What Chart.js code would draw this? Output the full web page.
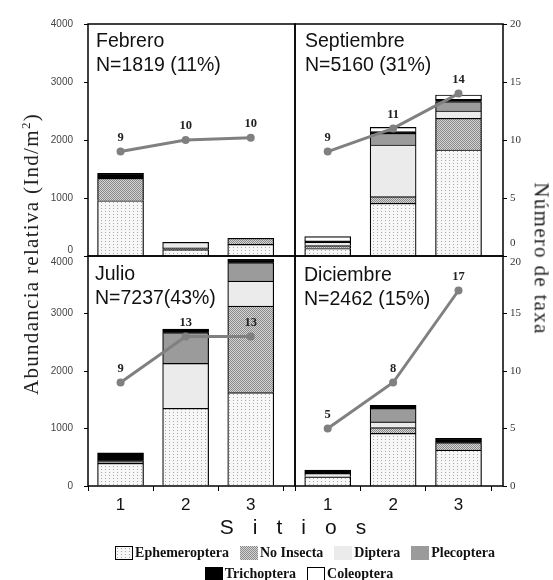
<!DOCTYPE html>
<html>
<head>
<meta charset="utf-8">
<script src="https://cdn.jsdelivr.net/npm/chart.js@4/dist/chart.umd.min.js"></script>
<style>
  body { margin: 0; background: #fff; }
  #page { position: relative; width: 553px; height: 580px; overflow: hidden; }
  #page canvas { position: absolute; left: 0; top: 0; }
  .panelTitle { position: absolute; font-family: "Liberation Sans", Arial, sans-serif; font-size: 19.5px; line-height: 24px; color: #111; white-space: nowrap; }
  .axisTitle { position: absolute; font-family: "Liberation Serif", "Times New Roman", serif; font-size: 21px; letter-spacing: 1.3px; color: #222; white-space: nowrap; }
  #sitios { position: absolute; left: 0; width: 605px; top: 515px; text-align: center; font-family: "Liberation Sans", Arial, sans-serif; font-size: 21px; letter-spacing: 19px; color: #111; }
  .legendRow { position: absolute; display: flex; justify-content: center; gap: 11px; font-family: "Liberation Serif", serif; font-weight: bold; font-size: 14px; color: #111; }
  .legendItem { display: flex; align-items: center; gap: 2px; }
  .swatch { width: 18px; height: 14px; box-sizing: border-box; }
</style>
</head>
<body>
<div id="page">
  <canvas id="c0" width="553" height="580"></canvas>
  <canvas id="c1" width="553" height="580"></canvas>
  <canvas id="c2" width="553" height="580"></canvas>
  <canvas id="c3" width="553" height="580"></canvas>
</div>
<script>
// ====== DATA ======
const sitios = [1, 2, 3];
const meses = ['Febrero', 'Septiembre', 'Julio', 'Diciembre'];
const totales = ['N=1819 (11%)', 'N=5160 (31%)', 'N=7237(43%)', 'N=2462 (15%)'];

// one row per panel (Febrero, Septiembre, Julio, Diciembre), values for sitios 1..3 (Ind/m2)
const ephemeroptera = [[953, 110, 200], [130, 908, 1828], [395, 1351, 1623], [160, 915, 626]];
const noInsecta     = [[387, 30, 105], [50, 115, 546], [0, 0, 1507], [0, 100, 128]];
const diptera       = [[0, 96, 0], [60, 891, 126], [0, 782, 435], [60, 100, 0]];
const plecoptera    = [[0, 0, 0], [0, 201, 160], [45, 534, 319], [0, 235, 0]];
const trichoptera   = [[86, 0, 0], [20, 29, 40], [139, 63, 58], [58, 55, 75]];
const coleoptera    = [[0, 0, 0], [73, 74, 76], [0, 0, 0], [0, 0, 0]];

// numero de taxa (right axis) and the labels printed over the points
const taxa       = [[9, 10, 10.2], [9, 11, 14], [9, 13, 13], [5, 9, 17]];
const taxaLabels = [['9', '10', '10'], ['9', '11', '14'], ['9', '13', '13'], ['5', '8', '17']];

const abundanciaTicks = [0, 1000, 2000, 3000, 4000];
const taxaTicks = [0, 5, 10, 15, 20];

// ====== PATTERNS ======
function makeTile(w, h, bg, dots, dotColor) {
    const c = document.createElement('canvas');
    c.width = w; c.height = h;
    const x = c.getContext('2d');
    x.fillStyle = bg;
    x.fillRect(0, 0, w, h);
    x.fillStyle = dotColor;
    dots.forEach(([a, b]) => x.fillRect(a, b, 1, 1));
    return c;
}
const ephemTile = makeTile(4, 3, '#f7f7f7', [[1, 1]], '#a8a8a8');
const noInsTile = makeTile(2, 2, '#d4d4d4', [[0, 0], [1, 1]], '#8a8a8a');

const series = [
    { label: 'Ephemeroptera', values: ephemeroptera, tile: ephemTile },
    { label: 'No Insecta', values: noInsecta, tile: noInsTile },
    { label: 'Diptera', values: diptera, color: '#ebebeb' },
    { label: 'Plecoptera', values: plecoptera, color: '#9b9b9b' },
    { label: 'Trichoptera', values: trichoptera, color: '#000000' },
    { label: 'Coleoptera', values: coleoptera, color: '#ffffff' },
];

// ====== PLUGINS ======
const framePlugin = {
    id: 'frame',
    afterDraw(chart) {
        const { ctx, chartArea: a } = chart;
        ctx.save();
        ctx.strokeStyle = '#000';
        ctx.lineWidth = 1.5;
        ctx.strokeRect(a.left, a.top, a.right - a.left, a.bottom - a.top);
        ctx.restore();
    }
};

const taxaLabelPlugin = {
    id: 'taxaLabels',
    afterDatasetsDraw(chart) {
        const p = chart.options.plugins.taxaLabels.panel;
        const meta = chart.getDatasetMeta(series.length);
        const ctx = chart.ctx;
        ctx.save();
        ctx.font = 'bold 12.5px "Liberation Serif", serif';
        ctx.fillStyle = '#222';
        ctx.textAlign = 'center';
        ctx.textBaseline = 'middle';
        meta.data.forEach((pt, i) => ctx.fillText(taxaLabels[p][i], pt.x, pt.y - 14));
        ctx.restore();
    }
};

// ====== PANELS ======
function makePanel(p) {
    const isLeft = p % 2 === 0;
    const isBottom = p >= 2;
    const canvas = document.getElementById('c' + p);
    const ctx = canvas.getContext('2d');

    const datasets = series.map(s => ({
        type: 'bar',
        label: s.label,
        data: sitios.map((x, i) => ({ x, y: s.values[p][i] })),
        backgroundColor: s.tile ? ctx.createPattern(s.tile, 'repeat') : s.color,
        borderColor: '#000',
        borderWidth: 1.2,
        barThickness: 46,
        yAxisID: 'y',
        order: 1
    }));
    datasets.push({
        type: 'line',
        label: 'Número de taxa',
        data: sitios.map((x, i) => ({ x, y: taxa[p][i] })),
        borderColor: '#808080',
        backgroundColor: '#808080',
        borderWidth: 3,
        pointRadius: 4,
        pointBorderWidth: 0,
        yAxisID: 'y2',
        order: 0
    });

    // shift the label that sits on the panel seam away from its neighbour
    const leftLabel = v => {
        if (!isBottom && v === 0) return ['0', ''];
        if (isBottom && v === 4000) return ['', '4000'];
        return String(v);
    };
    const rightLabel = v => {
        if (!isBottom && v === 0) return ['0', '', ''];
        if (isBottom && v === 20) return ['', '20'];
        return String(v);
    };

    return new Chart(canvas, {
        type: 'bar',
        data: { datasets },
        plugins: [framePlugin, taxaLabelPlugin],
        options: {
            responsive: false,
            animation: false,
            layout: {
                padding: {
                    left: isLeft ? 48 : 295,
                    right: isLeft ? 258 : 20,
                    top: isBottom ? 256 : 24,
                    bottom: isBottom ? 64 : 324
                }
            },
            plugins: {
                legend: { display: false },
                tooltip: { enabled: false },
                taxaLabels: { panel: p }
            },
            scales: {
                x: {
                    type: 'linear',
                    min: 0.5,
                    max: 3.68,
                    offset: false,
                    stacked: true,
                    display: isBottom,
                    afterBuildTicks: s => { s.ticks = sitios.map(v => ({ value: v })); },
                    afterFit: s => { if (isBottom) s.height = 30; },
                    ticks: { font: { family: 'Liberation Sans', size: 17 }, color: '#111', padding: 4, callback: v => String(v) },
                    grid: { drawOnChartArea: false, tickLength: 5, color: '#000' },
                    border: { display: false }
                },
                y: {
                    display: isLeft,
                    position: 'left',
                    min: 0,
                    max: 4000,
                    stacked: true,
                    afterBuildTicks: s => { s.ticks = abundanciaTicks.map(v => ({ value: v })); },
                    afterFit: s => { if (isLeft) s.width = 40; },
                    ticks: { font: { family: 'Liberation Sans', size: 10 }, color: '#444', padding: 11, callback: leftLabel },
                    grid: { drawOnChartArea: false, tickLength: 4, color: '#000' },
                    border: { display: false }
                },
                y2: {
                    display: !isLeft,
                    position: 'right',
                    min: 0,
                    max: 20,
                    stacked: false,
                    afterBuildTicks: s => { s.ticks = taxaTicks.map(v => ({ value: v })); },
                    afterFit: s => { if (!isLeft) s.width = 30; },
                    ticks: { font: { family: 'Liberation Serif', size: 11 }, color: '#333', padding: 3, callback: rightLabel },
                    grid: { drawOnChartArea: false, tickLength: 4, color: '#000' },
                    border: { display: false }
                }
            }
        }
    });
}

// ====== TEXT OVERLAYS ======
const page = document.getElementById('page');
const titlePos = [[96, 28], [305, 28], [95, 261], [304, 262]];
meses.forEach((m, p) => {
    const d = document.createElement('div');
    d.className = 'panelTitle';
    d.style.left = titlePos[p][0] + 'px';
    d.style.top = titlePos[p][1] + 'px';
    d.innerHTML = m + '<br>' + totales[p];
    page.appendChild(d);
});

const yTitle = document.createElement('div');
yTitle.className = 'axisTitle';
yTitle.innerHTML = 'Abundancia relativa (Ind/m<sup style="font-size:13px">2</sup>)';
page.appendChild(yTitle);
yTitle.style.left = (31 - yTitle.offsetWidth / 2) + 'px';
yTitle.style.top = (254 - yTitle.offsetHeight / 2) + 'px';
yTitle.style.transform = 'rotate(-90deg)';

const y2Title = document.createElement('div');
y2Title.className = 'axisTitle';
y2Title.textContent = 'Número de taxa';
page.appendChild(y2Title);
y2Title.style.left = (541 - y2Title.offsetWidth / 2) + 'px';
y2Title.style.top = (258 - y2Title.offsetHeight / 2) + 'px';
y2Title.style.transform = 'rotate(90deg)';

const sitiosTitle = document.createElement('div');
sitiosTitle.id = 'sitios';
sitiosTitle.textContent = 'Sitios';
page.appendChild(sitiosTitle);

// legend in two rows like the original
const legendRows = [series.slice(0, 4), series.slice(4)];
const rowTops = [545, 566];
const rowCenters = [305, 299];
legendRows.forEach((row, r) => {
    const rowDiv = document.createElement('div');
    rowDiv.className = 'legendRow';
    rowDiv.style.top = rowTops[r] + 'px';
    rowDiv.style.left = (rowCenters[r] - 250) + 'px';
    rowDiv.style.width = '500px';
    row.forEach(s => {
        const item = document.createElement('div');
        item.className = 'legendItem';
        const sw = document.createElement('span');
        sw.className = 'swatch';
        if (s.tile) sw.style.backgroundImage = 'url(' + s.tile.toDataURL() + ')';
        else sw.style.background = s.color;
        if (s.label === 'Ephemeroptera' || s.label === 'Coleoptera') sw.style.border = '1px solid #000';
        const t = document.createElement('span');
        t.textContent = s.label;
        item.appendChild(sw);
        item.appendChild(t);
        rowDiv.appendChild(item);
    });
    page.appendChild(rowDiv);
});

meses.forEach((m, p) => makePanel(p));
</script>
</body>
</html>
